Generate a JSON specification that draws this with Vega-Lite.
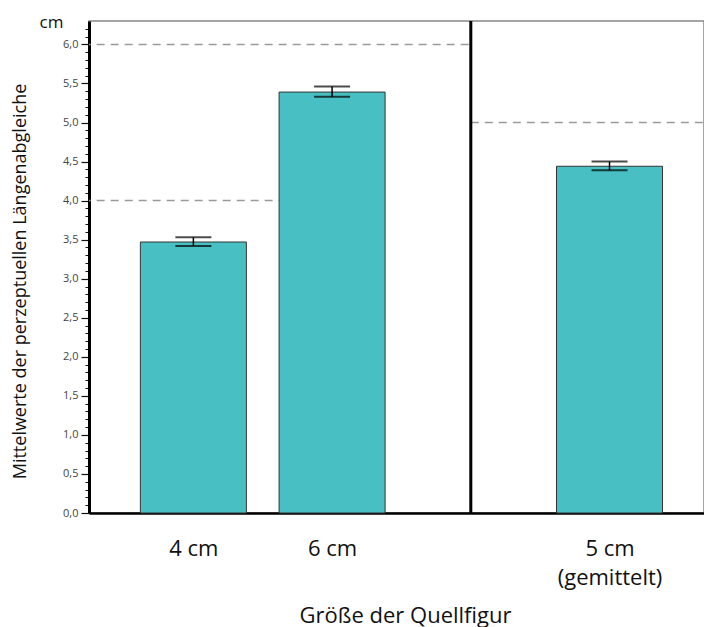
{
  "$schema": "https://vega.github.io/schema/vega-lite/v6.json",
  "width": 615,
  "height": 492,
  "autosize": {"type": "none"},
  "padding": {"left": 89, "top": 21, "right": 0, "bottom": 114},
  "background": "white",
  "config": {"font": "Open Sans", "view": {"stroke": "#888", "strokeWidth": 1.5}},
  "datasets": {
    "bars": [
      {"pos": 1, "label": "4 cm", "mean": 3.47, "lo": 3.42, "hi": 3.53},
      {"pos": 2, "label": "6 cm", "mean": 5.39, "lo": 5.33, "hi": 5.46},
      {"pos": 4, "label": "5 cm (gemittelt)", "mean": 4.44, "lo": 4.39, "hi": 4.5}
    ],
    "refs": [
      {"level": 6, "from": 0, "to": 3},
      {"level": 4, "from": 0, "to": 2},
      {"level": 5, "from": 3, "to": 5}
    ],
    "divider": [{"pos": 3}]
  },
  "layer": [
    {
      "data": {"name": "refs"},
      "mark": {"type": "rule", "clip": true, "strokeDash": [8, 6], "color": "#9a9a9a", "strokeWidth": 1.5},
      "encoding": {
        "x": {"field": "from", "type": "quantitative", "scale": {"domain": [0.2837, 4.645], "nice": false, "zero": false}},
        "x2": {"field": "to"},
        "y": {
          "field": "level", "type": "quantitative",
          "scale": {"domain": [0, 6.3], "nice": false},
          "axis": {
            "orient": "left",
            "values": [0.1,0.2,0.3,0.4,0.6,0.7,0.8,0.9,1.1,1.2,1.3,1.4,1.6,1.7,1.8,1.9,2.1,2.2,2.3,2.4,2.6,2.7,2.8,2.9,3.1,3.2,3.3,3.4,3.6,3.7,3.8,3.9,4.1,4.2,4.3,4.4,4.6,4.7,4.8,4.9,5.1,5.2,5.3,5.4,5.6,5.7,5.8,5.9,6.1,6.2],
            "labels": false, "domain": false, "grid": false,
            "tickSize": 4, "tickColor": "#111", "tickWidth": 1,
            "title": "cm", "titleAngle": 0, "titleAlign": "right", "titleBaseline": "alphabetic",
            "titleX": -26, "titleY": 6, "titleFontSize": 17, "titleFontWeight": "normal", "titleColor": "#111"
          }
        }
      }
    },
    {
      "data": {"name": "bars"},
      "mark": {"type": "bar", "orient": "vertical", "size": 106, "color": "#48C0C3", "stroke": "#333", "strokeWidth": 1},
      "encoding": {
        "x": {
          "field": "pos", "type": "quantitative",
          "scale": {"domain": [0.2837, 4.645], "nice": false, "zero": false},
          "axis": {
            "values": [1, 2, 4],
            "labelExpr": "datum.value == 4 ? ['5 cm', '(gemittelt)'] : (datum.value == 1 ? '4 cm' : '6 cm')",
            "ticks": false, "tickSize": 0, "labelPadding": 35, "labelBaseline": "middle",
            "labelFontSize": 22, "labelColor": "#111", "labelLineHeight": 29,
            "labelOverlap": false, "labelFlush": false, "labelBound": false,
            "domainColor": "black", "domainWidth": 2.5, "grid": false,
            "title": "Größe der Quellfigur", "titleFontSize": 22, "titleFontWeight": "normal",
            "titleColor": "#111", "titleX": 316, "titleY": 109, "titleBaseline": "alphabetic", "titleAlign": "center"
          }
        },
        "y": {
          "field": "mean", "type": "quantitative",
          "scale": {"domain": [0, 6.3], "nice": false},
          "axis": {
            "orient": "left",
            "values": [0, 0.5, 1, 1.5, 2, 2.5, 3, 3.5, 4, 4.5, 5, 5.5, 6],
            "labelExpr": "replace(format(datum.value, '.1f'), '.', ',')",
            "labelFontSize": 11, "labelColor": "#444", "labelPadding": 3,
            "tickSize": 8, "tickWidth": 1.2, "tickColor": "#111",
            "domainColor": "black", "domainWidth": 3, "grid": false,
            "title": "Mittelwerte der perzeptuellen Längenabgleiche",
            "titleFontSize": 18, "titleFontWeight": "normal", "titleColor": "#111",
            "titleAngle": -90, "titleX": -69, "titleY": 260, "titleBaseline": "middle", "titleAlign": "center"
          }
        }
      }
    },
    {
      "data": {"name": "bars"},
      "mark": {"type": "errorbar", "color": "black", "ticks": {"size": 36, "thickness": 2, "color": "black"}, "rule": {"strokeWidth": 1.5, "color": "black"}},
      "encoding": {
        "x": {"field": "pos", "type": "quantitative", "scale": {"domain": [0.2837, 4.645], "nice": false, "zero": false}},
        "y": {"field": "lo", "type": "quantitative", "scale": {"domain": [0, 6.3], "nice": false}, "axis": null},
        "y2": {"field": "hi"}
      }
    },
    {
      "data": {"name": "divider"},
      "mark": {"type": "rule", "color": "black", "strokeWidth": 3},
      "encoding": {
        "x": {"field": "pos", "type": "quantitative", "scale": {"domain": [0.2837, 4.645], "nice": false, "zero": false}}
      }
    }
  ],
  "resolve": {"axis": {"y": "independent"}}
}
